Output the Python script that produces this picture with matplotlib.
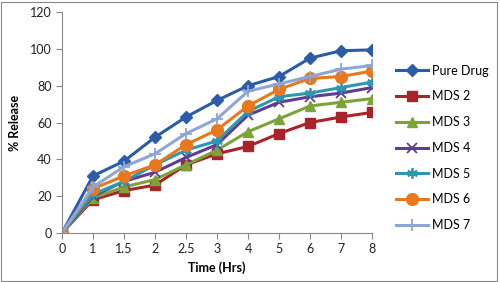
import matplotlib
matplotlib.use("Agg")
import matplotlib.pyplot as plt
from matplotlib.patches import Rectangle

time_labels = ["0", "1", "1.5", "2", "2.5", "3", "4", "5", "6", "7", "8"]
pure_drug = [0, 31, 39, 52, 63, 72, 80, 85, 95, 99, 99.5]
mds2 = [0, 18, 23, 26, 37, 43, 47, 54, 60, 63, 65.5]
mds3 = [0, 19, 25, 29, 37, 45, 55, 62, 69, 71, 73]
mds4 = [0, 20, 28, 33, 41, 48, 64, 71, 74, 76, 79]
mds5 = [0, 21, 28, 37, 45, 50, 66, 74, 76, 79, 82]
mds6 = [0, 24, 31, 37, 48, 56, 69, 78, 84, 85, 88]
mds7 = [0, 25, 36, 43, 54, 62, 77, 81, 85, 89, 91]

series = [
    ("Pure Drug", pure_drug, "#2A5CA8", "D", 6.5),
    ("MDS 2", mds2, "#A8232A", "s", 6.5),
    ("MDS 3", mds3, "#7BA33A", "^", 7.5),
    ("MDS 4", mds4, "#5E3D94", "x", 6.5),
    ("MDS 5", mds5, "#2B97B0", (6, 2, 0), 7.5),
    ("MDS 6", mds6, "#E8781E", "o", 8.5),
    ("MDS 7", mds7, "#8EA6D6", "+", 9),
]

plt.rcParams['font.family'] = ['Lato', 'DejaVu Sans']

fig = plt.figure(figsize=(5, 2.82), dpi=100)
ax = fig.add_axes([0.124, 0.174, 0.62, 0.783])

x = list(range(len(time_labels)))
for name, vals, col, mk, ms in series:
    ax.plot(x, vals, color=col, marker=mk, markersize=ms, linewidth=2.2,
            markeredgewidth=1.3 if mk in ("x", "+", (6, 2, 0)) else 1,
            markeredgecolor=col, label=name)

ax.set_xlim(0, len(time_labels) - 1)
ax.set_ylim(0, 120)
ax.set_xticks(x)
ax.set_xticklabels(time_labels)
ax.set_yticks(range(0, 121, 20))
for s in ("top", "right"):
    ax.spines[s].set_visible(False)
for s in ("left", "bottom"):
    ax.spines[s].set_color("#888888")
ax.tick_params(axis="both", colors="#888888", labelcolor="#222222", labelsize=9, length=4)
ax.set_xlabel("Time (Hrs)", fontsize=9, fontweight="bold", labelpad=4)
ax.set_ylabel("% Release", fontsize=9, fontweight="bold", labelpad=6)

leg = ax.legend(loc="center left", bbox_to_anchor=(1.04, 0.385), frameon=False,
                fontsize=9, handlelength=2.6, labelspacing=1.1, handletextpad=0.3)

fig.patches.append(Rectangle((0.002, 0.004), 0.992, 0.99, transform=fig.transFigure,
                             fill=False, edgecolor="#888888", linewidth=0.8))

fig.savefig("out.png", dpi=100)
